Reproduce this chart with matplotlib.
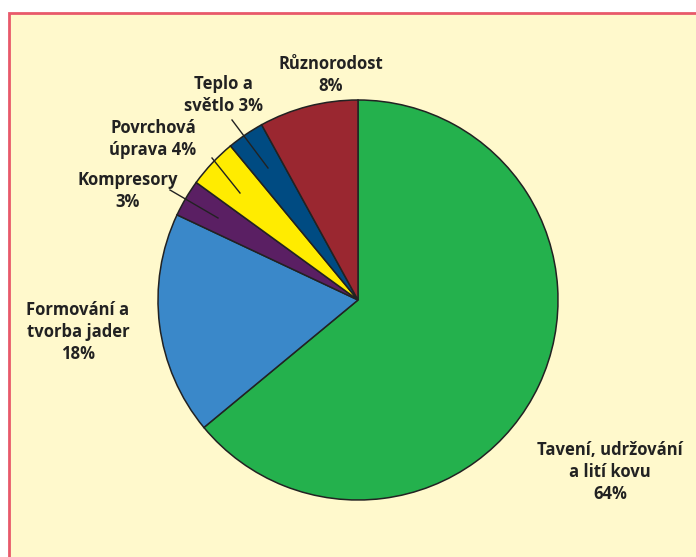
import matplotlib.pyplot as plt
from matplotlib.patches import Rectangle

labels = ['Tavení, udržování\na lití kovu\n64%', 'Formování a\ntvorba jader\n18%', 'Kompresory\n3%',
          'Povrchová\núprava 4%', 'Teplo a\nsvětlo 3%', 'Různorodost\n8%']
shares = [64, 18, 3, 4, 3, 8]
colors = ['#24B14D', '#3A88C9', '#5A1F63', '#FFEC00', '#004B82', '#9A2730']
label_pos = [(610, 472), (78, 332), (128, 191), (153, 139), (223, 95), (331, 75)]
leaders = [None, None, ((170, 190), (218, 218)), ((212, 158), (240, 193)), ((232, 120), (268, 168)), None]

H = 557
plt.rcParams['font.family'] = ['Open Sans', 'DejaVu Sans']
fig = plt.figure(figsize=(6.96, 5.57), dpi=100)
ax = fig.add_axes([0, 0, 1, 1])
ax.set_xlim(0, 696)
ax.set_ylim(0, H)
ax.set_aspect('equal')
ax.axis('off')

ax.add_patch(Rectangle((9, -10), 700, H - 13 + 10, facecolor='#FFF9CC', edgecolor='#E8596A', linewidth=2))

ax.pie(shares, colors=colors, startangle=90, counterclock=False, center=(358, H - 300), radius=200,
       wedgeprops=dict(edgecolor='#222222', linewidth=1.1))
ax.set_xlim(0, 696)
ax.set_ylim(0, H)

for text, (x, y) in zip(labels, label_pos):
    ax.text(x, H - y, text, ha='center', va='center', fontsize=12, fontweight='bold',
            color='#222222', linespacing=1.32)

for seg in leaders:
    if seg:
        (x0, y0), (x1, y1) = seg
        ax.plot([x0, x1], [H - y0, H - y1], color='#222222', linewidth=1)

fig.savefig('out.png', dpi=100)
